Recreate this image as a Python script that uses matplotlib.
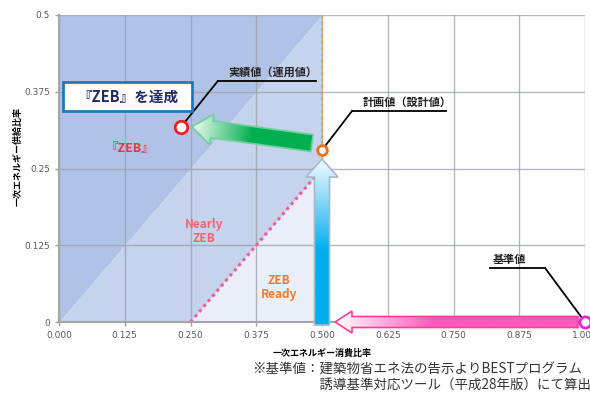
import numpy as np
import matplotlib
matplotlib.use('Agg')
import matplotlib.pyplot as plt
import matplotlib.colors as mcolors
from matplotlib.patches import Polygon, Rectangle

plt.rcParams['font.family'] = ['Noto Sans CJK JP', 'DejaVu Sans']

# --- data ---
x_ticks = [0.000, 0.125, 0.250, 0.375, 0.500, 0.625, 0.750, 0.875, 1.000]
x_tick_labels = ['0.000', '0.125', '0.250', '0.375', '0.500', '0.625', '0.750', '0.875', '1.000']
y_ticks = [0, 0.125, 0.25, 0.375, 0.5]
y_tick_labels = ['0', '0.125', '0.25', '0.375', '0.5']

region_x = [0.0, 0.25, 0.5]
zeb_boundary = [0.0, 0.25, 0.5]        # y = x
nearly_boundary = [0.0, 0.0, 0.25]     # y = x - 0.25
ready_line_x = [0.25, 0.5]
ready_line_y = [0.0, 0.25]

design_value = (0.5, 0.28)    # 計画値（設計値）
actual_value = (0.232, 0.318)  # 実績値（運用値）
base_value = (1.0, 0.0)        # 基準値

fig = plt.figure(figsize=(5.9, 3.98), dpi=100)
ax = fig.add_axes([59 / 590, 76 / 398, 526 / 590, 307 / 398])
ax.set_xlim(0, 1)
ax.set_ylim(0, 0.5)

# shaded regions
ax.fill_between(region_x, zeb_boundary, 0.5, color='#b0c3e6', lw=0, zorder=0)
ax.fill_between(region_x, nearly_boundary, zeb_boundary, color='#c5d3ec', lw=0, zorder=0)
ax.fill_between(ready_line_x, 0, ready_line_y, color='#e9eef8', lw=0, zorder=0)

# grid
for xv in x_ticks:
    ax.axvline(xv, color='#9aa0a8', lw=1, alpha=0.75, zorder=1)
for yv in y_ticks:
    ax.axhline(yv, color='#9aa0a8', lw=1, alpha=0.75, zorder=1)

ax.plot(ready_line_x, ready_line_y, color='#f45a93', lw=2.2, ls=(0, (1, 1.2)), zorder=2)
ax.plot([design_value[0], design_value[0]], [0, 0.5], color='#f5a040', lw=1.3, ls=(0, (2, 1.5)), zorder=2)


def gradient_arrow(tail, tip, tail_off, tip_off, body_w, head_w, head_len, colors, edge):
    T = ax.transData
    p0 = np.array(T.transform(tail)) + np.array(tail_off)
    p1 = np.array(T.transform(tip)) + np.array(tip_off)
    d = p1 - p0
    L = np.hypot(*d)
    u = d / L
    n = np.array([-u[1], u[0]])
    hb = p1 - u * head_len
    pts = [p0 + n * body_w / 2, hb + n * body_w / 2, hb + n * head_w / 2, p1,
           hb - n * head_w / 2, hb - n * body_w / 2, p0 - n * body_w / 2]
    pts_data = T.inverted().transform(pts)
    poly = Polygon(pts_data, closed=True, facecolor='none', edgecolor=edge, lw=1.2,
                   zorder=5, clip_on=False)
    ax.add_patch(poly)
    x0, y0 = pts_data.min(0)
    x1, y1 = pts_data.max(0)
    gx, gy = np.meshgrid(np.linspace(x0, x1, 300), np.linspace(y0, y1, 300))
    disp = T.transform(np.column_stack([gx.ravel(), gy.ravel()]))
    t = ((disp - p0) @ u / L).reshape(gx.shape).clip(0, 1)
    cmap = mcolors.LinearSegmentedColormap.from_list('grad', colors)
    im = ax.imshow(cmap(t), extent=[x0, x1, y0, y1], origin='lower', aspect='auto',
                   zorder=4, interpolation='bilinear')
    im.set_clip_box(fig.bbox)
    im.set_clip_path(poly)


gradient_arrow(design_value, actual_value, (-10, 7), (11, 0), 17, 31, 20,
               [(0, '#00b050'), (0.5, '#00b050'), (1, '#eefaf2')], '#6fd09a')
gradient_arrow((design_value[0], 0), design_value, (0, -3), (0, -9), 15, 32, 18,
               [(0, '#00aeef'), (0.45, '#00aeef'), (1, '#f4fbff')], '#a8b8c8')
gradient_arrow(base_value, (design_value[0], 0), (-7, 0), (13, 0), 11, 22, 17,
               [(0, '#ff5abb'), (0.6, '#ff5abb'), (1, '#ffffff')], '#ff3c96')

# markers
ax.plot(*design_value, 'o', ms=7, mfc='white', mec='#f07010', mew=2, zorder=7, clip_on=False)
ax.plot(*actual_value, 'o', ms=9, mfc='white', mec='#ee1c25', mew=2, zorder=7, clip_on=False)
ax.plot(*base_value, 'o', ms=8, mfc='white', mec='#f020e0', mew=2, zorder=7, clip_on=False)

# callouts
def callout(text, x0, x1, y, point, from_right=False):
    ax.plot([x0, x1], [y, y], color='black', lw=1.3, zorder=6, clip_on=False)
    sx = x1 if from_right else x0
    ax.plot([sx, point[0]], [y, point[1]], color='black', lw=1.3, zorder=6, clip_on=False)
    tx = x0 + 0.02 if not from_right else x0 + 0.006
    ax.text(tx, y + 0.004, text, fontsize=8, fontweight='bold', color='#222222',
            ha='left', va='bottom', zorder=6)

callout('実績値（運用値）', 0.302, 0.489, 0.3925, actual_value)
callout('計画値（設計値）', 0.557, 0.736, 0.3436, design_value)
callout('基準値', 0.819, 0.924, 0.088, base_value, from_right=True)

# box
ax.add_patch(Rectangle((0.0076, 0.3436), 0.2453, 0.0474, facecolor='white',
                       edgecolor='#1f78c1', lw=2, zorder=6, clip_on=False))
ax.text(0.130, 0.367, '『ZEB』を達成', fontsize=10.5, fontweight='bold', color='#1f2d6b',
        ha='center', va='center', zorder=7)

# region labels
ax.text(0.135, 0.283, '『ZEB』', fontsize=9, fontweight='bold', color='#e8383d',
        ha='center', va='center', zorder=3)
ax.text(0.276, 0.148, 'Nearly\nZEB', fontsize=8.5, fontweight='bold', color='#f06470',
        ha='center', va='center', zorder=3, linespacing=1.1)
ax.text(0.418, 0.057, 'ZEB\nReady', fontsize=8.5, fontweight='bold', color='#f47c28',
        ha='center', va='center', zorder=3, linespacing=1.1)

# axes styling
ax.set_xticks(x_ticks)
ax.set_xticklabels(x_tick_labels)
ax.set_yticks(y_ticks)
ax.set_yticklabels(y_tick_labels)
ax.tick_params(labelsize=6.5, labelcolor='#595959', color='#a0a0a0', length=3, width=1)
for lab in ax.get_xticklabels() + ax.get_yticklabels():
    lab.set_family('DejaVu Sans')
for s in ['top', 'right']:
    ax.spines[s].set_visible(False)
for s in ['left', 'bottom']:
    ax.spines[s].set_color('#a6a6a6')
    ax.spines[s].set_linewidth(1.5)

fig.text(322 / 590, 1 - 353 / 398, '一次エネルギー消費比率', fontsize=6.5, fontweight='bold',
         ha='center', va='center')
fig.text(18 / 590, 1 - 157 / 398, '一次エネルギー供給比率', fontsize=6.5, fontweight='bold',
         ha='center', va='center', rotation=90)

fig.text(252 / 590, 1 - 377 / 398,
         '※基準値：建築物省エネ法の告示よりBESTプログラム\n　　　　　誘導基準対応ツール（平成28年版）にて算出',
         fontsize=9.7, color='#333333', ha='left', va='center', linespacing=1.05)

ax.set_xlim(0, 1)
ax.set_ylim(0, 0.5)
fig.savefig('out.png', dpi=100)
